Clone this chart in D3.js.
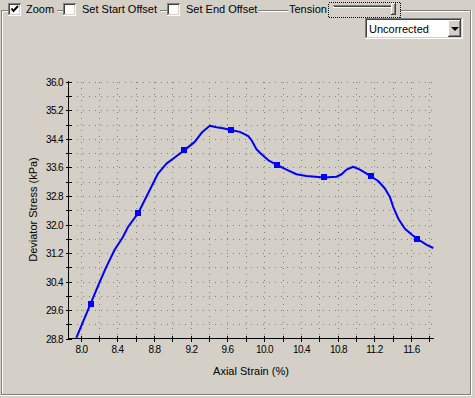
<!DOCTYPE html>
<html><head><meta charset="utf-8">
<script src="https://cdn.jsdelivr.net/npm/d3@7"></script>
<style>body{margin:0;background:#d4d0c8;overflow:hidden}svg{display:block}text{font-family:"Liberation Sans",Arial,sans-serif}</style>
</head><body><svg id="c" width="475" height="398"></svg>
<script>
const strain = [7.953, 8.109, 8.207, 8.280, 8.371, 8.461, 8.516, 8.625, 8.752, 8.843, 8.935, 9.025, 9.127, 9.243, 9.32, 9.407, 9.48, 9.552, 9.636, 9.734, 9.824, 9.861, 9.916, 9.971, 10.043, 10.141, 10.243, 10.352, 10.461, 10.653, 10.788, 10.843, 10.897, 10.969, 11.043, 11.116, 11.159, 11.242, 11.315, 11.370, 11.406, 11.460, 11.533, 11.606, 11.667, 11.770, 11.842];
const stress = [28.82, 29.78, 30.38, 30.81, 31.29, 31.65, 31.93, 32.31, 32.96, 33.43, 33.71, 33.88, 34.08, 34.32, 34.58, 34.77, 34.73, 34.70, 34.65, 34.60, 34.49, 34.37, 34.11, 33.97, 33.81, 33.67, 33.54, 33.41, 33.36, 33.32, 33.34, 33.41, 33.54, 33.62, 33.54, 33.43, 33.36, 33.22, 33.01, 32.77, 32.49, 32.17, 31.88, 31.72, 31.60, 31.43, 31.34];
const markerStrain = [8.109, 8.625, 9.127, 9.636, 10.141, 10.653, 11.159, 11.667];
const markerStress = [29.78, 32.31, 34.08, 34.65, 33.67, 33.32, 33.36, 31.60];
const xTickLabels = ["8.0", "8.4", "8.8", "9.2", "9.6", "10.0", "10.4", "10.8", "11.2", "11.6"];
const yTickLabels = ["28.8", "29.6", "30.4", "31.2", "32.0", "32.8", "33.6", "34.4", "35.2", "36.0"];
const xTicksAll = d3.range(0, 20).map(i => +(8.0 + 0.2 * i).toFixed(1));
const yTicksAll = d3.range(0, 19).map(i => +(28.8 + 0.4 * i).toFixed(1));
const xDomain = [7.868, 11.85];
const yDomain = [28.8, 36.0];

const svg = d3.select("#c");
const x = d3.scaleLinear().domain(xDomain).range([68.5, 434]);
const y = d3.scaleLinear().domain(yDomain).range([338.5, 82]);
const px = v => Math.round(v) + 0.5;

// group box frame (etched)
const fr = svg.append("g").attr("shape-rendering", "crispEdges");
function hl(x1, x2, yy, c) { fr.append("line").attr("x1", x1).attr("x2", x2).attr("y1", yy).attr("y2", yy).attr("stroke", c); }
function vl(xx, y1, y2, c) { fr.append("line").attr("x1", xx).attr("x2", xx).attr("y1", y1).attr("y2", y2).attr("stroke", c); }
[[1, 8], [57, 63], [160, 167], [258, 288], [400, 471]].forEach(s => { hl(s[0], s[1], 10.5, "#808080"); hl(s[0] + 1, s[1], 11.5, "#fff"); });
vl(1.5, 10, 395, "#808080"); vl(2.5, 11, 394, "#fff");
vl(470.5, 10, 395, "#808080"); vl(471.5, 10, 396, "#fff");
hl(1, 471, 394.5, "#808080"); hl(1, 472, 395.5, "#fff");

// checkboxes
function checkbox(x0, checked) {
  const g = svg.append("g").attr("shape-rendering", "crispEdges");
  g.append("rect").attr("x", x0).attr("y", 3).attr("width", 13).attr("height", 13).attr("fill", "#fff");
  g.append("path").attr("d", `M${x0 + 0.5},${16} V3.5 H${x0 + 13}`).attr("fill", "none").attr("stroke", "#808080");
  g.append("path").attr("d", `M${x0 + 1.5},${15} V4.5 H${x0 + 12}`).attr("fill", "none").attr("stroke", "#404040");
  g.append("path").attr("d", `M${x0 + 12.5},4 V15.5 H${x0}`).attr("fill", "none").attr("stroke", "#fff");
  g.append("path").attr("d", `M${x0 + 11.5},5 V14.5 H${x0 + 1}`).attr("fill", "none").attr("stroke", "#d4d0c8");
  if (checked) {
    svg.append("path").attr("d", `M${x0 + 3.5},${8.5} L${x0 + 5.5},${11} L${x0 + 10},${6}`).attr("fill", "none").attr("stroke", "#000").attr("stroke-width", 2);
  }
}
checkbox(8, true); checkbox(63, false); checkbox(167, false);
const topTxt = [["Zoom", 26], ["Set Start Offset", 82], ["Set End Offset", 186], ["Tension", 289]];
topTxt.forEach(t => svg.append("text").attr("x", t[1]).attr("y", 13).attr("font-size", 11).attr("fill", "#000").text(t[0]));

// slider
const sl = svg.append("g").attr("shape-rendering", "crispEdges");
sl.append("rect").attr("x", 328.5).attr("y", 2.5).attr("width", 72).attr("height", 15).attr("fill", "none").attr("stroke", "#000").attr("stroke-dasharray", "1,1");
sl.append("line").attr("x1", 333).attr("x2", 392).attr("y1", 5.5).attr("y2", 5.5).attr("stroke", "#808080");
sl.append("line").attr("x1", 334).attr("x2", 392).attr("y1", 6.5).attr("y2", 6.5).attr("stroke", "#404040");
sl.append("line").attr("x1", 333).attr("x2", 393).attr("y1", 7.5).attr("y2", 7.5).attr("stroke", "#fff");
sl.append("rect").attr("x", 391).attr("y", 3).attr("width", 5).attr("height", 11).attr("fill", "#d4d0c8");
sl.append("path").attr("d", "M391.5,14 V3.5 H395").attr("fill", "none").attr("stroke", "#fff");
sl.append("path").attr("d", "M395.5,3 V14.5 H391").attr("fill", "none").attr("stroke", "#404040");
sl.append("path").attr("d", "M394.5,4 V13.5 H392").attr("fill", "none").attr("stroke", "#808080");

// dropdown
const dd = svg.append("g").attr("shape-rendering", "crispEdges");
dd.append("rect").attr("x", 365).attr("y", 18).attr("width", 98).attr("height", 21).attr("fill", "#fff");
dd.append("path").attr("d", "M365.5,39 V18.5 H463").attr("fill", "none").attr("stroke", "#808080");
dd.append("path").attr("d", "M366.5,38 V19.5 H462").attr("fill", "none").attr("stroke", "#404040");
dd.append("path").attr("d", "M462.5,18 V38.5 H365").attr("fill", "none").attr("stroke", "#fff");
dd.append("path").attr("d", "M461.5,19 V37.5 H366").attr("fill", "none").attr("stroke", "#d4d0c8");
dd.append("rect").attr("x", 448).attr("y", 20).attr("width", 13).attr("height", 17).attr("fill", "#d4d0c8");
dd.append("path").attr("d", "M448.5,37 V20.5 H461").attr("fill", "none").attr("stroke", "#fff");
dd.append("path").attr("d", "M460.5,20 V36.5 H448").attr("fill", "none").attr("stroke", "#404040");
dd.append("path").attr("d", "M459.5,21 V35.5 H449").attr("fill", "none").attr("stroke", "#808080");
svg.append("path").attr("d", "M451,27 H459 L455,31 Z").attr("fill", "#000");
svg.append("text").attr("x", 369).attr("y", 33).attr("font-size", 11).attr("fill", "#000").text("Uncorrected");

// grid
const grid = svg.append("g").attr("stroke", "#808080").attr("stroke-dasharray", "1,5").attr("shape-rendering", "crispEdges");
grid.selectAll("line.h").data(yTicksAll.slice(1)).join("line")
  .attr("x1", 71).attr("x2", 434).attr("y1", d => px(y(d))).attr("y2", d => px(y(d)));
grid.selectAll("line.v").data(xTicksAll).join("line").attr("class", "v")
  .attr("x1", d => px(x(d))).attr("x2", d => px(x(d))).attr("y1", 82).attr("y2", 336);

// axes
const yLabelVals = yTickLabels.map(Number);
const xLabelVals = xTickLabels.map(Number);
const yAxis = d3.axisLeft(y).tickValues(yTicksAll).tickSizeInner(3).tickSizeOuter(0).tickPadding(2.5)
  .tickFormat(d => { const i = yLabelVals.findIndex(v => Math.abs(v - d) < 1e-6); return i >= 0 ? yTickLabels[i] : ""; });
const xAxis = d3.axisBottom(x).tickValues(xTicksAll).tickSizeInner(3).tickSizeOuter(0).tickPadding(4)
  .tickFormat(d => { const i = xLabelVals.findIndex(v => Math.abs(v - d) < 1e-6); return i >= 0 ? xTickLabels[i] : ""; });

const gy = svg.append("g").attr("transform", "translate(68.5,0)").call(yAxis);
const gx = svg.append("g").attr("transform", "translate(0,338.5)").call(xAxis);
[gx, gy].forEach(g => {
  g.select(".domain").attr("stroke", "#000").attr("shape-rendering", "crispEdges");
  g.selectAll(".tick line").attr("stroke", "#000").attr("shape-rendering", "crispEdges");
  g.selectAll("text").attr("font-family", "'Liberation Sans',Arial,sans-serif").attr("font-size", 10).attr("letter-spacing", "-0.6px").attr("fill", "#000");
});
gy.selectAll(".tick line").attr("x1", 3).attr("x2", -3);
gy.selectAll(".tick").attr("transform", d => `translate(0,${px(y(d))})`);
gx.selectAll(".tick line").attr("y1", -3).attr("y2", 3);
gx.selectAll(".tick").attr("transform", d => `translate(${px(x(d))},0)`);
gy.select(".domain").attr("d", `M0,${y(yDomain[1]) - 1}V${y(yDomain[0])}`);
gx.select(".domain").attr("d", `M${x(xDomain[0])},0H${x(xDomain[1])}`);

// labels
svg.append("text").attr("x", 251).attr("y", 375).attr("text-anchor", "middle").attr("font-size", 11).attr("fill", "#000").text("Axial Strain (%)");
svg.append("text").attr("transform", "translate(36.5,209.5) rotate(-90)").attr("text-anchor", "middle").attr("font-size", 11).attr("fill", "#000").text("Deviator Stress (kPa)");

// series
const pts = strain.map((s, i) => [s, stress[i]]);
svg.append("path").datum(pts)
  .attr("d", d3.line().x(d => x(d[0])).y(d => y(d[1])))
  .attr("fill", "none").attr("stroke", "#0000ff").attr("stroke-width", 2).attr("stroke-linejoin", "round");
svg.selectAll("rect.m").data(markerStrain.map((s, i) => [s, markerStress[i]])).join("rect").attr("class", "m")
  .attr("x", d => Math.round(x(d[0])) - 3).attr("y", d => Math.round(y(d[1])) - 3)
  .attr("width", 6).attr("height", 6).attr("fill", "#0000ff");
</script></body></html>
